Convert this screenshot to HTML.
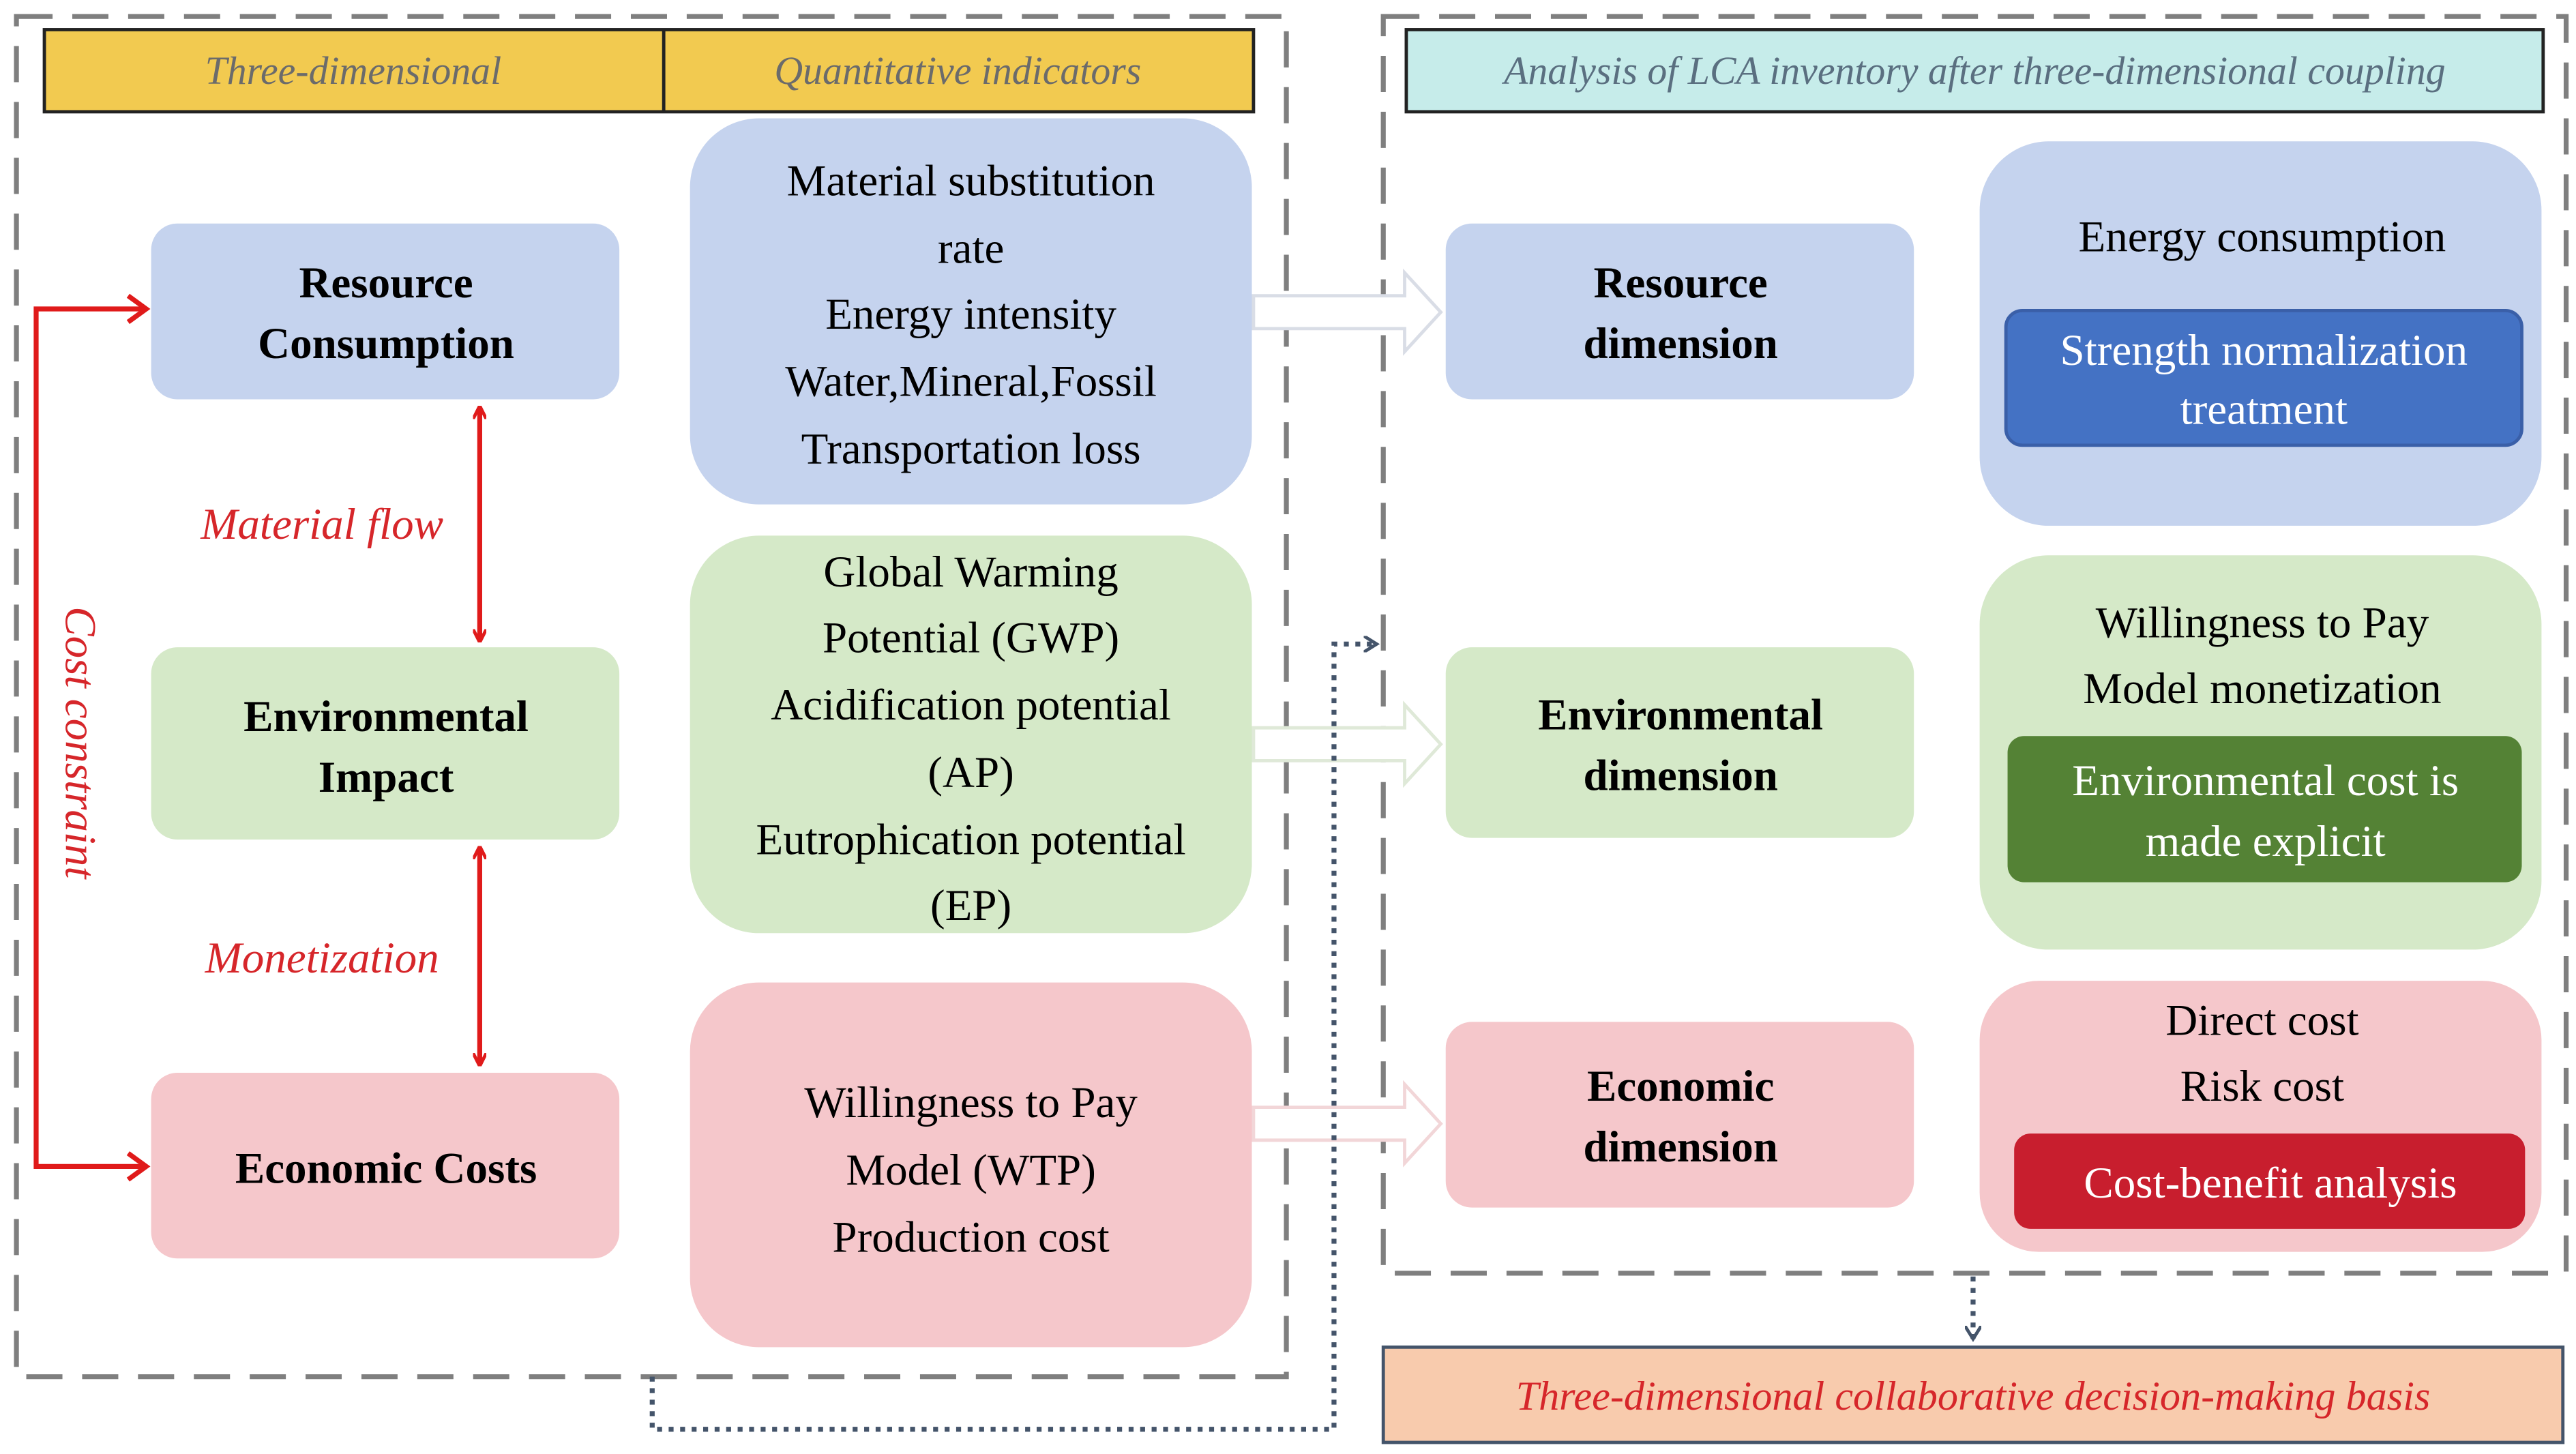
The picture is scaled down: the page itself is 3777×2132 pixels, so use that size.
<!DOCTYPE html>
<html><head><meta charset="utf-8"><style>
html,body{margin:0;padding:0;background:#fff;}
svg{display:block;}
svg, svg text{font-family:"Liberation Serif","Times New Roman",Times,serif;}
</style></head><body>
<svg width="3777" height="2132" viewBox="0 0 1568 885" xmlns="http://www.w3.org/2000/svg" font-family="'Liberation Serif', 'Times New Roman', Times, serif">
<defs>
<marker id="ra" markerWidth="8" markerHeight="8" refX="7" refY="4" orient="auto-start-reverse" markerUnits="userSpaceOnUse"><path d="M0,0 L8,4 L0,8" fill="none" stroke="#e01a1a" stroke-width="2"/></marker>
<marker id="da" markerWidth="10" markerHeight="10" refX="8" refY="5" orient="auto" markerUnits="userSpaceOnUse"><path d="M0,0 L8,5 L0,10" fill="none" stroke="#44546a" stroke-width="2"/></marker>
</defs>
<rect width="1568" height="885" fill="#fff"/>
<rect x="10" y="10" width="773" height="828" fill="none" stroke="#7f7f7f" stroke-width="3" stroke-dasharray="22,12"/>
<rect x="842" y="10" width="720" height="765" fill="none" stroke="#7f7f7f" stroke-width="3" stroke-dasharray="22,12"/>
<rect x="27" y="18" width="736" height="50" fill="#f2ca50" stroke="#222" stroke-width="2"/>
<line x1="404" y1="18" x2="404" y2="68" stroke="#222" stroke-width="2"/>
<text x="215" y="51" font-size="24" font-style="italic" fill="#6b6b6b" text-anchor="middle">Three-dimensional</text>
<text x="583" y="51" font-size="24" font-style="italic" fill="#6b6b6b" text-anchor="middle">Quantitative indicators</text>
<rect x="856" y="18" width="692" height="50" fill="#c6ecea" stroke="#222" stroke-width="2"/>
<text x="1202" y="51" font-size="24" font-style="italic" fill="#5a6f80" text-anchor="middle">Analysis of LCA inventory after three-dimensional coupling</text>
<rect x="92" y="136" width="285" height="107" rx="16" fill="#c5d3ee"/>
<text x="235" y="181" font-size="27" font-weight="bold" text-anchor="middle">Resource</text>
<text x="235" y="218" font-size="27" font-weight="bold" text-anchor="middle">Consumption</text>
<rect x="92" y="394" width="285" height="117" rx="16" fill="#d5e9c8"/>
<text x="235" y="445" font-size="27" font-weight="bold" text-anchor="middle">Environmental</text>
<text x="235" y="482" font-size="27" font-weight="bold" text-anchor="middle">Impact</text>
<rect x="92" y="653" width="285" height="113" rx="16" fill="#f5c7cb"/>
<text x="235" y="720" font-size="27" font-weight="bold" text-anchor="middle">Economic Costs</text>
<line x1="292" y1="248" x2="292" y2="390" stroke="#e01a1a" stroke-width="3" marker-start="url(#ra)" marker-end="url(#ra)"/>
<line x1="292" y1="516" x2="292" y2="648" stroke="#e01a1a" stroke-width="3" marker-start="url(#ra)" marker-end="url(#ra)"/>
<text x="196" y="328" font-size="27" font-style="italic" fill="#d6262a" text-anchor="middle">Material flow</text>
<text x="196" y="592" font-size="27" font-style="italic" fill="#d6262a" text-anchor="middle">Monetization</text>
<polyline points="88,188 22,188 22,710 88,710" fill="none" stroke="#e01a1a" stroke-width="3"/>
<path d="M78,180 L89,188 L78,196" fill="none" stroke="#e01a1a" stroke-width="3"/>
<path d="M78,702 L89,710 L78,718" fill="none" stroke="#e01a1a" stroke-width="3"/>
<text transform="translate(40,452) rotate(90)" font-size="27" font-style="italic" fill="#d6262a" text-anchor="middle">Cost constraint</text>
<rect x="420" y="72" width="342" height="235" rx="42" fill="#c5d3ee"/>
<g font-size="27" text-anchor="middle">
<text x="591" y="119">Material substitution</text>
<text x="591" y="160">rate</text>
<text x="591" y="200">Energy intensity</text>
<text x="591" y="241">Water,Mineral,Fossil</text>
<text x="591" y="282">Transportation loss</text>
</g>
<rect x="420" y="326" width="342" height="242" rx="42" fill="#d5e9c8"/>
<g font-size="27" text-anchor="middle">
<text x="591" y="357">Global Warming</text>
<text x="591" y="397">Potential (GWP)</text>
<text x="591" y="438">Acidification potential</text>
<text x="591" y="479">(AP)</text>
<text x="591" y="520">Eutrophication potential</text>
<text x="591" y="560">(EP)</text>
</g>
<rect x="420" y="598" width="342" height="222" rx="42" fill="#f5c7cb"/>
<g font-size="27" text-anchor="middle">
<text x="591" y="680">Willingness to Pay</text>
<text x="591" y="721">Model (WTP)</text>
<text x="591" y="762">Production cost</text>
</g>
<path d="M763,180 L855,180 L855,166 L877,190 L855,214 L855,200 L763,200 Z" fill="#fff" stroke="#d9dde6" stroke-width="2"/>
<path d="M763,443 L855,443 L855,429 L877,453 L855,477 L855,463 L763,463 Z" fill="#fff" stroke="#dfe9d8" stroke-width="2"/>
<path d="M763,674 L855,674 L855,660 L877,684 L855,708 L855,694 L763,694 Z" fill="#fff" stroke="#f2d6d8" stroke-width="2"/>
<polyline points="397,838 397,870 812,870 812,392 838,392" fill="none" stroke="#44546a" stroke-width="3" stroke-dasharray="3,4" marker-end="url(#da)"/>
<rect x="880" y="136" width="285" height="107" rx="16" fill="#c5d3ee"/>
<text x="1023" y="181" font-size="27" font-weight="bold" text-anchor="middle">Resource</text>
<text x="1023" y="218" font-size="27" font-weight="bold" text-anchor="middle">dimension</text>
<rect x="880" y="394" width="285" height="116" rx="16" fill="#d5e9c8"/>
<text x="1023" y="444" font-size="27" font-weight="bold" text-anchor="middle">Environmental</text>
<text x="1023" y="481" font-size="27" font-weight="bold" text-anchor="middle">dimension</text>
<rect x="880" y="622" width="285" height="113" rx="16" fill="#f5c7cb"/>
<text x="1023" y="670" font-size="27" font-weight="bold" text-anchor="middle">Economic</text>
<text x="1023" y="707" font-size="27" font-weight="bold" text-anchor="middle">dimension</text>
<rect x="1205" y="86" width="342" height="234" rx="42" fill="#c5d3ee"/>
<text x="1377" y="153" font-size="27" text-anchor="middle">Energy consumption</text>
<rect x="1221" y="189" width="314" height="82" rx="10" fill="#4472c4" stroke="#3a5fa8" stroke-width="2"/>
<text x="1378" y="222" font-size="27" fill="#fff" text-anchor="middle">Strength normalization</text>
<text x="1378" y="258" font-size="27" fill="#fff" text-anchor="middle">treatment</text>
<rect x="1205" y="338" width="342" height="240" rx="42" fill="#d5e9c8"/>
<text x="1377" y="388" font-size="27" text-anchor="middle">Willingness to Pay</text>
<text x="1377" y="428" font-size="27" text-anchor="middle">Model monetization</text>
<rect x="1222" y="448" width="313" height="89" rx="10" fill="#548235"/>
<text x="1379" y="484" font-size="27" fill="#fff" text-anchor="middle">Environmental cost is</text>
<text x="1379" y="521" font-size="27" fill="#fff" text-anchor="middle">made explicit</text>
<rect x="1205" y="597" width="342" height="165" rx="36" fill="#f5c7cb"/>
<text x="1377" y="630" font-size="27" text-anchor="middle">Direct cost</text>
<text x="1377" y="670" font-size="27" text-anchor="middle">Risk cost</text>
<rect x="1226" y="690" width="311" height="58" rx="10" fill="#c81e2e"/>
<text x="1382" y="729" font-size="27" fill="#fff" text-anchor="middle">Cost-benefit analysis</text>
<line x1="1201" y1="777" x2="1201" y2="815" stroke="#44546a" stroke-width="3" stroke-dasharray="3,4" marker-end="url(#da)"/>
<rect x="842" y="820" width="718" height="58" fill="#f8cbad" stroke="#44546a" stroke-width="2"/>
<text x="1201" y="858" font-size="25" font-style="italic" fill="#d6262a" text-anchor="middle">Three-dimensional collaborative decision-making basis</text>
</svg>
</body></html>
